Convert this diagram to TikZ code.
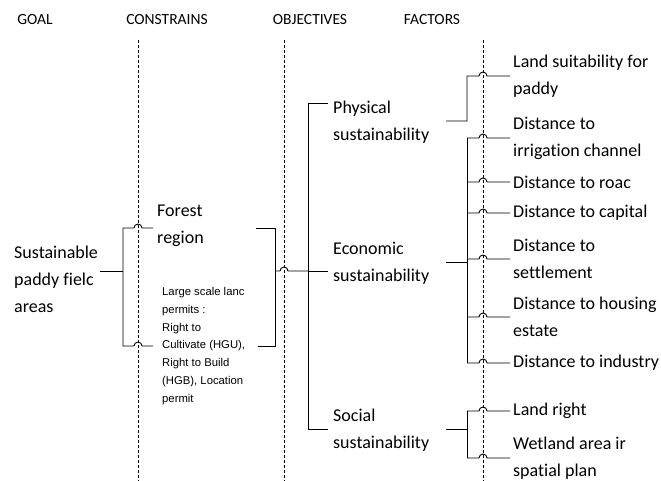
\documentclass[tikz,border=0pt]{standalone}
\usepackage{fontspec}
\setmainfont{Carlito}[Ligatures={NoCommon}]
\newfontfamily\arialf{Liberation Sans}
\begin{document}
\begin{tikzpicture}[x=1pt,y=-1pt,
  hdr/.style={font=\fontsize{15.5}{18}\selectfont, inner sep=0pt},
  txt/.style={font=\fontsize{18}{27}\selectfont, align=left, anchor=west, inner sep=3pt},
  small/.style={font=\arialf\fontsize{11.3}{17.7}\selectfont, align=left, inner sep=0pt},
  sep/.style={densely dashed, line width=0.6pt},
  ln/.style={line width=0.9pt}]
\useasboundingbox (0,0) rectangle (661,481);
% headers
\node[hdr] (hg) at (35,20) {GOAL};
\node[hdr] (hc) at (167,20) {CONSTRAINS};
\node[hdr] (ho) at (310,20) {OBJECTIVES};
\node[hdr] (hf) at (432,20) {FACTORS};
% dashed separators
\coordinate (d1t) at (138,40); \coordinate (d1b) at (138,481);
\coordinate (d2t) at (284,40); \coordinate (d2b) at (284,481);
\coordinate (d3t) at (483,40); \coordinate (d3b) at (483,481);
\draw[sep] (d1t) -- (d1b);
\draw[sep] (d2t) -- (d2b);
\draw[sep] (d3t) -- (d3b);
% goal
\node[txt] (goal) at (11,279) {Sustainable\\paddy fielc\\areas};
% constraints
\node[txt] (forest) at (154,226) {Forest\\region};
\node[small, anchor=west] (large) at (162,346) {Large scale lanc\\permits :\\Right to\\Cultivate (HGU),\\Right to Build\\(HGB), Location\\permit};
% objectives
\node[txt] (phys) at (330,122) {Physical\\sustainability};
\node[txt] (econ) at (330,263) {Economic\\sustainability};
\node[txt] (soc) at (330,430) {Social\\sustainability};
% factors
\node[txt] (f1) at (510,76) {Land suitability for\\paddy};
\node[txt] (f2) at (510,138) {Distance to\\irrigation channel};
\node[txt] (f3) at (510,182) {Distance to roac};
\node[txt] (f4) at (510,213) {Distance to capital};
\node[txt] (f5) at (510,259) {Distance to\\settlement};
\node[txt] (f6) at (510,317) {Distance to housing\\estate};
\node[txt] (f7) at (510,363) {Distance to industry};
\node[txt] (f8) at (510,411) {Land right};
\node[txt] (f9) at (510,458) {Wetland area ir\\spatial plan};
% goal -> constraints
\coordinate (gout) at (100,271);
\coordinate (gb) at (123,271);
\coordinate (gbt) at (123,228);
\coordinate (gbb) at (123,346);
\coordinate (fl) at (153,228);
\coordinate (ll) at (153,346);
\draw[ln] (gout) -- (gb);
\draw[ln] (fl) -- (142,228) arc[start angle=0,end angle=180,radius=4pt] -- (gbt) -- (gbb) -- (134,346) arc[start angle=180,end angle=0,radius=4pt] -- (ll);
% constraints -> objectives
\coordinate (fr) at (256,228);
\coordinate (lr) at (258,346);
\coordinate (cbt) at (275,228);
\coordinate (cbb) at (275,346);
\coordinate (cm) at (275,271);
\coordinate (tm) at (308,271);
\draw[ln] (fr) -- (cbt) -- (cbb) -- (lr);
\draw[ln] (cm) -- (280,271) arc[start angle=180,end angle=0,radius=4pt] -- (tm);
% objective trunk
\coordinate (tt) at (308,103);
\coordinate (tb) at (308,429);
\draw[ln] (328,103) -- (tt) -- (tb) -- (328,429);
\draw[ln] (tm) -- (328,271);
% objective -> factors
\coordinate (p1) at (446,121); \coordinate (p2) at (467,121); \coordinate (p3) at (467,76);
\draw[ln] (p1) -- (p2) -- (p3) -- (479,76) arc[start angle=180,end angle=0,radius=4pt] -- (f1.west);
\coordinate (e1) at (446,262); \coordinate (e2) at (467,262);
\coordinate (et) at (467,138); \coordinate (eb) at (467,363);
\draw[ln] (e1) -- (e2);
\draw[ln] (et) -- (eb);
\foreach \y/\n in {138/f2,182/f3,213/f4,259/f5,317/f6,363/f7}{
  \draw[ln] (467,\y) -- (479,\y) arc[start angle=180,end angle=0,radius=4pt] -- (\n.west);
}
\coordinate (s1) at (446,429); \coordinate (s2) at (467,429);
\draw[ln] (s1) -- (s2);
\draw[ln] (467,411) -- (467,458);
\foreach \y/\n in {411/f8,458/f9}{
  \draw[ln] (467,\y) -- (479,\y) arc[start angle=180,end angle=0,radius=4pt] -- (\n.west);
}
\end{tikzpicture}
\end{document}
